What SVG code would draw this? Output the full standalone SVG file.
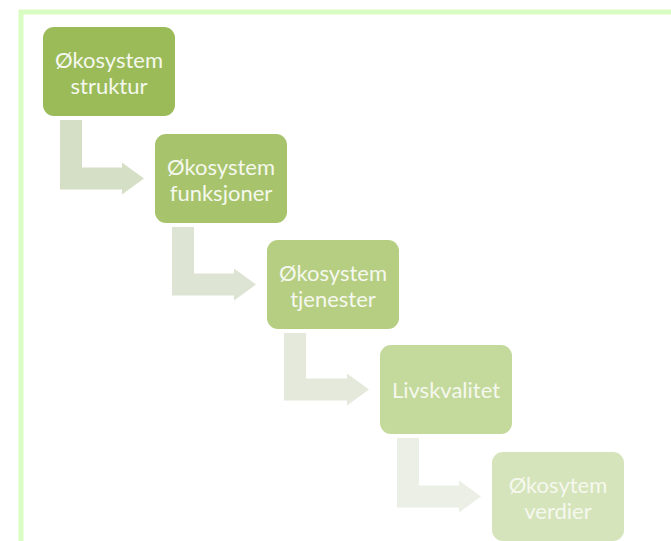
<svg xmlns="http://www.w3.org/2000/svg" width="671" height="541" viewBox="0 0 671 541">
  <style>
    .node text { font-family: Lato, "Open Sans", "Liberation Sans", sans-serif; font-size: 22px; fill: #f5f8ee; text-anchor: middle; }
    .conn path { stroke: none; }
  </style>
  <rect x="0" y="0" width="671" height="541" fill="#ffffff"/>
  <rect id="frame" x="21" y="12" width="700" height="600" fill="none" stroke="#d9fcc2" stroke-width="5"/>
  <g id="connectors" class="conn">
    <path d="M60,120 H82 V167.5 H122 V162.5 L144,178.5 L122,194.5 V189.5 H60 Z" fill="#d5dfc5"/>
    <path d="M172,227 H194 V273.5 H234 V268.5 L256,284.5 L234,300.5 V295.5 H172 Z" fill="#dde4d3"/>
    <path d="M284,333 H306 V378.5 H347 V373.5 L369,389.5 L347,405.5 V400.5 H284 Z" fill="#e4e9dc"/>
    <path d="M397,438 H419 V485.5 H459 V480.5 L481,496.5 L459,512.5 V507.5 H397 Z" fill="#ecefe6"/>
  </g>
  <g id="node1" class="node">
    <rect x="43" y="27" width="132" height="89" rx="11" fill="#9bbb59"/>
    <text x="109" y="67.5">Økosystem</text>
    <text x="109" y="93.5">struktur</text>
  </g>
  <g id="node2" class="node">
    <rect x="155" y="134" width="132" height="89" rx="11" fill="#a7c46c"/>
    <text x="221" y="174.5">Økosystem</text>
    <text x="221" y="200.5">funksjoner</text>
  </g>
  <g id="node3" class="node">
    <rect x="267" y="240" width="132" height="89" rx="11" fill="#b5ce82"/>
    <text x="333" y="280.5">Økosystem</text>
    <text x="333" y="306.5">tjenester</text>
  </g>
  <g id="node4" class="node">
    <rect x="380" y="345" width="132" height="89" rx="11" fill="#c4d99c"/>
    <text x="446" y="397.5">Livskvalitet</text>
  </g>
  <g id="node5" class="node">
    <rect x="492" y="452" width="132" height="89" rx="11" fill="#d5e4bb"/>
    <text x="558" y="492.5">Økosytem</text>
    <text x="558" y="518.5">verdier</text>
  </g>
</svg>
